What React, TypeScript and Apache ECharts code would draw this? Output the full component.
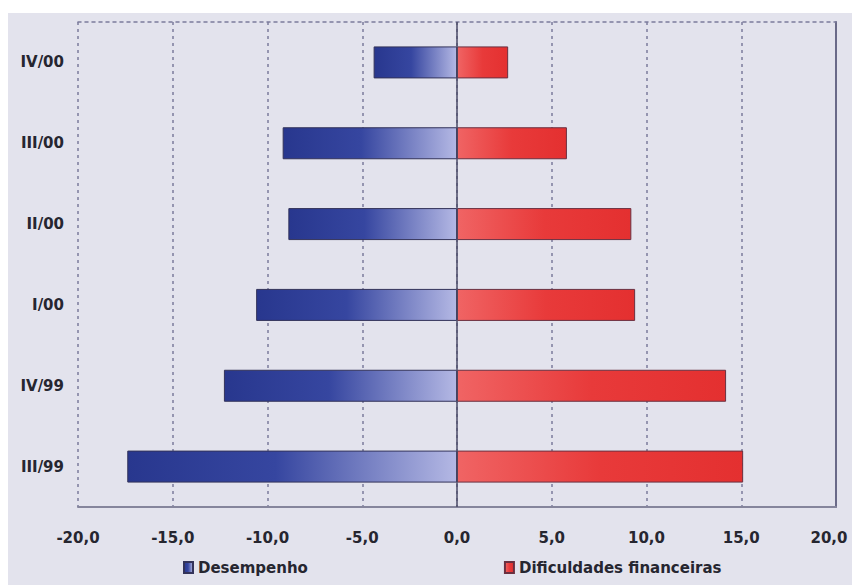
import React, { useEffect, useRef } from "react";
import * as echarts from "echarts";

const categories = ["III/99", "IV/99", "I/00", "II/00", "III/00", "IV/00"];
const desempenho = [-17.4, -12.3, -10.6, -8.9, -9.2, -4.4];
const dificuldades = [15.1, 14.2, 9.4, 9.2, 5.8, 2.7];
const seriesNames = ["Desempenho", "Dificuldades financeiras"];
const xMin = -20;
const xMax = 20;
const xStep = 5;

const FONT = "'DejaVu Sans', sans-serif";
const TXT = "#262630";

export default function App() {
  const ref = useRef<HTMLDivElement>(null);
  useEffect(() => {
    if (!ref.current) return;
    const chart = echarts.init(ref.current, null, { renderer: "svg" });
    const blue = new echarts.graphic.LinearGradient(0, 0, 1, 0, [
      { offset: 0, color: "#28378e" },
      { offset: 0.45, color: "#3646a0" },
      { offset: 1, color: "#b4b8e4" },
    ]);
    const red = new echarts.graphic.LinearGradient(0, 0, 1, 0, [
      { offset: 0, color: "#f06464" },
      { offset: 0.5, color: "#e83a3a" },
      { offset: 1, color: "#e43030" },
    ]);
    const labelStyle = {
      fontFamily: FONT,
      fontWeight: "bold" as const,
      fontSize: 15,
      color: TXT,
    };
    const fmt = (v: number) => {
      const s = v.toFixed(1).replace(".", ",");
      return v === xMax ? "{m|" + s + "}" : s;
    };
    chart.setOption({
      animation: false,
      backgroundColor: "#e3e3ed",
      textStyle: { fontFamily: FONT },
      grid: {
        left: 70,
        top: 9,
        right: 16,
        bottom: 78,
        containLabel: false,
        outerBoundsMode: "none",
      },
      legend: {
        left: 170,
        top: 542,
        itemWidth: 9,
        itemHeight: 11,
        itemGap: 196,
        icon: "rect",
        textStyle: { fontFamily: FONT, fontWeight: "bold", fontSize: 15, color: TXT },
        data: seriesNames,
      },
      xAxis: [
        {
          type: "value",
          position: "bottom",
          min: xMin,
          max: xMax,
          interval: xStep,
          axisLine: { show: true, lineStyle: { color: "#85859c", width: 2 } },
          axisTick: { show: false },
          axisLabel: {
            margin: 23,
            ...labelStyle,
            formatter: fmt,
            rich: { m: { ...labelStyle, padding: [0, 14, 0, 0] } },
          },
          splitLine: {
            show: true,
            lineStyle: { color: "#7c7c9c", type: [3, 4], width: 1.5 },
          },
        },
        {
          type: "value",
          position: "top",
          min: xMin,
          max: xMax,
          interval: xStep,
          axisLine: { show: true, lineStyle: { color: "#7c7c9c", type: [3, 4], width: 1.5 } },
          axisTick: { show: false },
          axisLabel: { show: false },
          splitLine: { show: false },
        },
      ],
      yAxis: [
        {
          type: "category",
          data: categories,
          position: "left",
          axisLine: { show: false },
          axisTick: { show: false },
          axisLabel: { margin: 14, ...labelStyle },
        },
        {
          type: "category",
          data: categories,
          position: "right",
          axisLine: { show: true, onZero: false, lineStyle: { color: "#6a6a88", width: 2 } },
          axisTick: { show: false },
          axisLabel: { show: false },
        },
      ],
      series: [
        {
          name: seriesNames[0],
          type: "bar",
          data: desempenho,
          barWidth: 32,
          barGap: "-100%",
          itemStyle: { color: blue, borderColor: "#33335a", borderWidth: 1 },
          markLine: {
            silent: true,
            symbol: "none",
            label: { show: false },
            lineStyle: { color: "#4a4a66", type: "solid", width: 1.5 },
            data: [{ xAxis: 0 }],
          },
        },
        {
          name: seriesNames[1],
          type: "bar",
          data: dificuldades,
          barWidth: 32,
          itemStyle: { color: red, borderColor: "#6a3040", borderWidth: 1 },
        },
      ],
    });
    return () => chart.dispose();
  }, []);
  return (
    <div
      ref={ref}
      style={{ position: "absolute", left: 8, top: 13, width: 844, height: 572 }}
    />
  );
}
